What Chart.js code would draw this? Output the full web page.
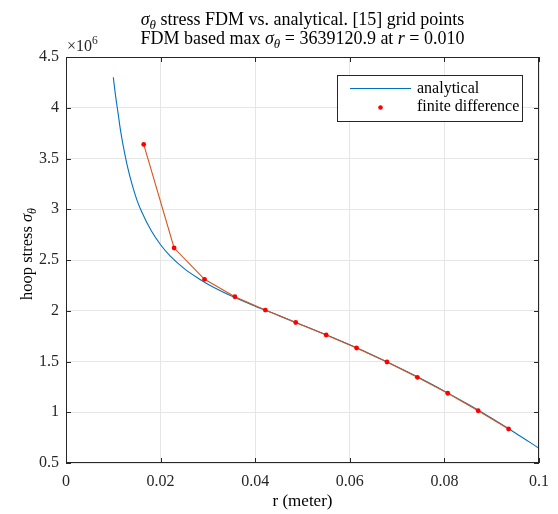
<!DOCTYPE html>
<html><head><meta charset="utf-8">
<script src="https://cdn.jsdelivr.net/npm/chart.js@4.4.1/dist/chart.umd.min.js"></script>
<style>html,body{margin:0;padding:0;background:#fff}#wrap{width:558px;height:514px}</style>
</head><body><div id="wrap"><canvas id="c" width="558" height="514"></canvas></div>
<script>
// values in units of 1e6 (Pa)
const analyticalR = [0.010,0.0105,0.011,0.0115,0.012,0.013,0.014,0.015,0.016,0.018,0.020,0.022,0.025,0.028,0.030,0.035,0.040,0.045,0.050,0.055,0.060,0.065,0.070,0.075,0.080,0.085,0.090,0.095,0.100];
const analyticalS = [4.30,4.11,3.95,3.785,3.65,3.42,3.24,3.09,2.975,2.79,2.65,2.54,2.415,2.318,2.262,2.145,2.045,1.952,1.858,1.763,1.664,1.559,1.448,1.332,1.208,1.078,0.941,0.796,0.645];
const fdmR = [0.01643,0.02286,0.02929,0.03571,0.04214,0.04857,0.05500,0.06143,0.06786,0.07429,0.08071,0.08714,0.09357];
const fdmS = [3.6391209,2.618,2.310,2.138,2.007,1.884,1.761,1.633,1.495,1.344,1.187,1.015,0.835];
const xTicks = [0,0.02,0.04,0.06,0.08,0.1];
const yTicks = [0.5,1,1.5,2,2.5,3,3.5,4,4.5];
const seriesNames = ['analytical','finite difference'];

const FONT = "'Liberation Serif', 'DejaVu Serif', serif";
const TXT = '#262626';

function drawRuns(ctx, runs, x, y, size, align){
  const parts = runs.map(r=>{
    const s = Math.round((r.sub||r.sup ? size*0.72 : size)*10)/10;
    ctx.font = (r.it?'italic ':'') + s + 'px ' + FONT;
    return {r, s, w: ctx.measureText(r.t).width};
  });
  const total = parts.reduce((a,p)=>a+p.w,0);
  let cx = align==='center' ? x-total/2 : (align==='right'? x-total : x);
  ctx.textBaseline='alphabetic'; ctx.textAlign='left';
  for(const p of parts){
    ctx.font = (p.r.it?'italic ':'') + p.s + 'px ' + FONT;
    const dy = p.r.sub ? size*0.22 : (p.r.sup ? -size*0.42 : 0);
    ctx.fillText(p.r.t, cx, y+dy);
    cx += p.w;
  }
}

const deco = {
  id:'deco',
  afterDraw(chart){
    const ctx = chart.ctx, a = chart.chartArea;
    const xs = chart.scales.x, ys = chart.scales.y;
    ctx.save();
    // box and inward ticks
    ctx.strokeStyle = TXT; ctx.lineWidth = 1;
    ctx.strokeRect(Math.round(a.left)+0.5, Math.round(a.top)+0.5, Math.round(a.right-a.left)-1, Math.round(a.bottom-a.top)-1);
    ctx.beginPath();
    for(const t of xTicks){
      const px = Math.round(xs.getPixelForValue(t))+0.5;
      ctx.moveTo(px,a.bottom); ctx.lineTo(px,a.bottom-5);
      ctx.moveTo(px,a.top); ctx.lineTo(px,a.top+5);
    }
    for(const t of yTicks){
      const py = Math.round(ys.getPixelForValue(t))+0.5;
      ctx.moveTo(a.left,py); ctx.lineTo(a.left+5,py);
      ctx.moveTo(a.right,py); ctx.lineTo(a.right-5,py);
    }
    ctx.stroke();
    ctx.fillStyle = '#000';
    // title
    const maxV = (Math.max(...fdmS)*1e6).toFixed(1);
    const cxm = (a.left+a.right)/2;
    drawRuns(ctx,[{t:'σ',it:1},{t:'θ',it:1,sub:1},{t:' stress FDM vs. analytical. [15] grid points'}],cxm,25,18,'center');
    drawRuns(ctx,[{t:'FDM based max '},{t:'σ',it:1},{t:'θ',it:1,sub:1},{t:' = '+maxV+' at '},{t:'r',it:1},{t:' = 0.010'}],cxm,44,18,'center');
    ctx.fillStyle = TXT;
    drawRuns(ctx,[{t:'×10'},{t:'6',sup:1}],a.left+1,51,16,'left');
    // axis titles
    ctx.fillStyle = '#000';
    drawRuns(ctx,[{t:'r (meter)'}],cxm,506,17,'center');
    ctx.save(); ctx.translate(32,254); ctx.rotate(-Math.PI/2);
    drawRuns(ctx,[{t:'hoop stress '},{t:'σ',it:1},{t:'θ',it:1,sub:1}],0,0,16.5,'center');
    ctx.restore();
    // legend
    const lx=337, ly=75, lw=185, lh=46;
    ctx.fillStyle='#fff'; ctx.fillRect(lx,ly,lw,lh);
    ctx.strokeStyle='#262626'; ctx.lineWidth=1; ctx.strokeRect(lx+0.5,ly+0.5,lw,lh);
    ctx.strokeStyle='#0072BD'; ctx.beginPath(); ctx.moveTo(350,88.5); ctx.lineTo(411,88.5); ctx.stroke();
    ctx.fillStyle='#ff0000'; ctx.beginPath(); ctx.arc(380.5,107.5,2.3,0,2*Math.PI); ctx.fill();
    ctx.fillStyle='#000';
    drawRuns(ctx,[{t:seriesNames[0]}],417,93,16,'left');
    drawRuns(ctx,[{t:seriesNames[1]}],417,110.5,16,'left');
    ctx.restore();
  }
};

new Chart(document.getElementById('c'),{
  type:'scatter',
  data:{datasets:[
    {label:seriesNames[0], data:analyticalR.map((r,i)=>({x:r,y:analyticalS[i]})), showLine:true, borderColor:'#0072BD', borderWidth:1.1, pointRadius:0, cubicInterpolationMode:'monotone', order:3},
    {label:'fdm-line', data:fdmR.map((r,i)=>({x:r,y:fdmS[i]})), showLine:true, borderColor:'#D95319', borderWidth:1.1, pointRadius:0, order:2},
    {label:seriesNames[1], data:fdmR.map((r,i)=>({x:r,y:fdmS[i]})), showLine:false, pointRadius:2.4, pointBackgroundColor:'#ff0000', pointBorderWidth:0, order:1}
  ]},
  options:{
    responsive:false, animation:false, events:[],
    layout:{padding:{top:57,right:16,left:0,bottom:0}},
    plugins:{legend:{display:false}, title:{display:false}, tooltip:{enabled:false}},
    scales:{
      x:{type:'linear', min:0, max:0.1,
        afterBuildTicks(s){ s.ticks = xTicks.map(v=>({value:v})); },
        afterFit(s){ s.height = 51; },
        ticks:{color:TXT, font:{family:FONT,size:16}, padding:9, maxRotation:0, callback:v=>String(+v.toFixed(2))},
        grid:{color:'#e6e6e6', drawTicks:false}, border:{display:false}},
      y:{type:'linear', min:0.5, max:4.5,
        afterBuildTicks(s){ s.ticks = yTicks.map(v=>({value:v})); },
        afterFit(s){ s.width = 66; },
        ticks:{color:TXT, font:{family:FONT,size:16}, padding:7, callback:v=>String(v)},
        grid:{color:'#e6e6e6', drawTicks:false}, border:{display:false}}
    }
  },
  plugins:[deco]
});
</script></body></html>
